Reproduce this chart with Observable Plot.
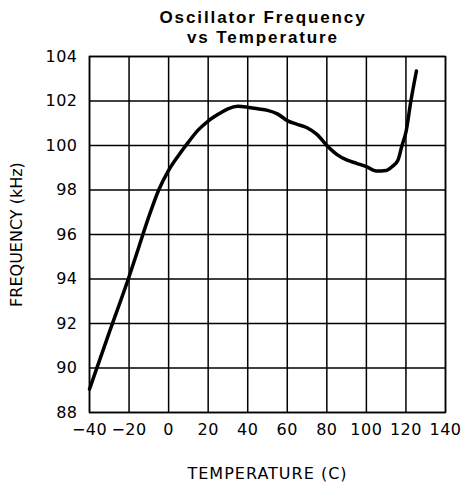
<!DOCTYPE html>
<html>
<head>
<meta charset="utf-8">
<script src="https://cdn.jsdelivr.net/npm/d3@7"></script>
<script src="https://cdn.jsdelivr.net/npm/@observablehq/plot@0.6"></script>
<style>
  html, body { margin: 0; padding: 0; background: white; }
  #wrap { width: 463px; height: 489px; position: relative; background: white; }
  #title {
    box-sizing: border-box; height: 46px; padding-top: 8px; padding-left: 63px;
    text-align: center; font-family: "Liberation Sans", Arial, sans-serif; font-weight: bold;
    font-size: 17px; line-height: 19.5px; letter-spacing: 1.9px; color: black;
  }
  svg [aria-label="x-axis label"] text { letter-spacing: 1px; }
  svg [aria-label="x-axis tick label"] text, svg [aria-label="y-axis tick label"] text { letter-spacing: 0.5px; }
</style>
</head>
<body>
<div id="wrap">
  <div id="title">Oscillator Frequency<br>vs Temperature</div>
  <div id="chart"></div>
</div>
<script>
const temps = [-40,-30,-20,-15,-10,-5,0,5,10,15,20,25,30,35,40,45,50,55,60,65,70,75,80,85,90,95,100,105,110,113,116,118,120,122.5,125.3];
const freqs = [89.05,91.6,94.1,95.45,96.8,98.0,98.88,99.55,100.15,100.7,101.1,101.4,101.65,101.76,101.72,101.65,101.58,101.42,101.12,100.95,100.8,100.5,100.0,99.6,99.35,99.2,99.05,98.85,98.88,99.05,99.35,100.0,100.6,102.0,103.35];
const xTicks = [-40,-20,0,20,40,60,80,100,120,140];
const yTicks = [88,90,92,94,96,98,100,102,104];
const xLabel = "TEMPERATURE (C)";
const yLabel = "FREQUENCY (kHz)";

const data = temps.map((t, i) => ({t, f: freqs[i]}));

const chart = Plot.plot({
  width: 463,
  height: 443,
  marginTop: 10,
  marginBottom: 77,
  marginLeft: 89,
  marginRight: 18,
  style: {fontFamily: "DejaVu Sans", fontSize: "16px", color: "black", background: "white"},
  x: {domain: [-40, 140], ticks: xTicks, tickSize: 0, tickPadding: 11, label: xLabel, labelAnchor: "center", labelOffset: 66, labelArrow: "none"},
  y: {domain: [88, 104], ticks: yTicks, tickSize: 0, tickPadding: 12, label: yLabel, labelAnchor: "center", labelOffset: 79, labelArrow: "none"},
  marks: [
    Plot.gridX(xTicks, {stroke: "black", strokeOpacity: 1, strokeWidth: 1.5}),
    Plot.gridY(yTicks, {stroke: "black", strokeOpacity: 1, strokeWidth: 1.5}),
    Plot.frame({stroke: "black", strokeWidth: 1.5}),
    Plot.line(data, {x: "t", y: "f", stroke: "black", strokeWidth: 3.5, curve: "monotone-x"})
  ]
});
document.getElementById("chart").appendChild(chart);
</script>
</body>
</html>
